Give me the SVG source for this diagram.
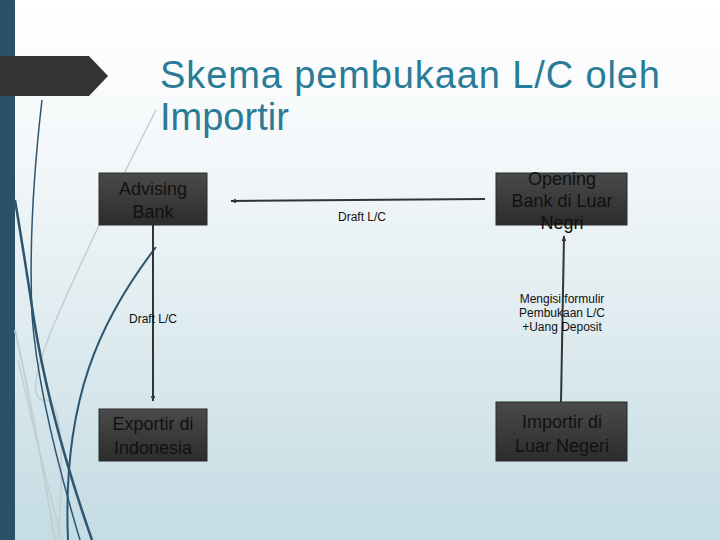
<svg xmlns="http://www.w3.org/2000/svg" width="720" height="540" viewBox="0 0 720 540">
<defs>
<linearGradient id="bg" x1="0" y1="0" x2="0" y2="1">
<stop offset="0" stop-color="#ffffff"/>
<stop offset="0.3" stop-color="#f3f7f9"/>
<stop offset="1" stop-color="#c4dce3"/>
</linearGradient>
<linearGradient id="nodeFill" x1="0" y1="0" x2="0" y2="1">
<stop offset="0" stop-color="#4a4a4a"/>
<stop offset="1" stop-color="#2c2c2c"/>
</linearGradient>
<marker id="ah" viewBox="0 0 10 10" refX="9" refY="5" markerWidth="6" markerHeight="6" orient="auto-start-reverse" markerUnits="userSpaceOnUse">
<path d="M0,1 L10,5 L0,9 Z" fill="#333"/>
</marker>
<style>
.node rect{fill:url(#nodeFill);stroke:#2a2a2a;stroke-width:1}
.ntext{font-family:"Liberation Sans",Arial,sans-serif;font-size:18px;fill:#111;text-anchor:middle}
.lbl{font-family:"Liberation Sans",Arial,sans-serif;font-size:12px;fill:#111;text-anchor:middle}
.conn{stroke:#333;stroke-width:2;fill:none}
.dark{stroke:#2b5570;fill:none}
.light{stroke:#c3ced3;fill:none}
.title{font-family:"Liberation Sans",Arial,sans-serif;font-size:38px;fill:#2a7b96}
</style>
</defs>
<rect x="0" y="0" width="720" height="540" fill="url(#bg)"/>
<rect x="0" y="0" width="15" height="540" fill="#2b5168"/>
<g id="decor">
<path class="light" stroke-width="1.5" d="M156,110 Q95,230 58,315 T45,400 T58,540"/>
<path class="light" stroke-width="2" d="M15,330 Q35,420 55,540"/>
<path class="light" stroke-width="1.5" d="M18,360 Q38,450 62,540"/>
<path class="dark" stroke-width="1.5" d="M42,100 Q28,220 32,315 Q38,400 80,540"/>
<path class="dark" stroke-width="2.5" d="M15,200 Q25,260 34,320 Q50,420 92,540"/>
<path class="dark" stroke-width="2" d="M156,247 C100,320 62,400 68,540"/>
</g>
<path d="M0,56 L89,56 L108,76 L89,96 L0,96 Z" fill="#333333"/>
<text class="title" x="160" y="88" textLength="500" lengthAdjust="spacing">Skema pembukaan L/C oleh</text>
<text class="title" x="160" y="130">Importir</text>
<g id="connectors">
<line class="conn" x1="485" y1="199" x2="231" y2="201" marker-end="url(#ah)"/>
<line class="conn" x1="153" y1="225" x2="153" y2="401" marker-end="url(#ah)"/>
<line class="conn" x1="561" y1="402" x2="564" y2="236" marker-end="url(#ah)"/>
<text class="lbl" x="362" y="221">Draft L/C</text>
<text class="lbl" x="153" y="323">Draft L/C</text>
<text class="lbl" x="562" y="303">Mengisi formulir</text>
<text class="lbl" x="562" y="317">Pembukaan L/C</text>
<text class="lbl" x="562" y="331">+Uang Deposit</text>
</g>
<g id="advising" class="node">
<rect x="99" y="173" width="108" height="52"/>
<text class="ntext" x="153" y="195">Advising</text>
<text class="ntext" x="153" y="218">Bank</text>
</g>
<g id="opening" class="node">
<rect x="496" y="173" width="131" height="52"/>
<text class="ntext" x="562" y="185">Opening</text>
<text class="ntext" x="562" y="207">Bank di Luar</text>
<text class="ntext" x="562" y="229">Negri</text>
</g>
<g id="exportir" class="node">
<rect x="99" y="409" width="108" height="52"/>
<text class="ntext" x="153" y="430">Exportir di</text>
<text class="ntext" x="153" y="454">Indonesia</text>
</g>
<g id="importir" class="node">
<rect x="496" y="402" width="131" height="59"/>
<text class="ntext" x="562" y="428">Importir di</text>
<text class="ntext" x="562" y="452">Luar Negeri</text>
</g>
</svg>
